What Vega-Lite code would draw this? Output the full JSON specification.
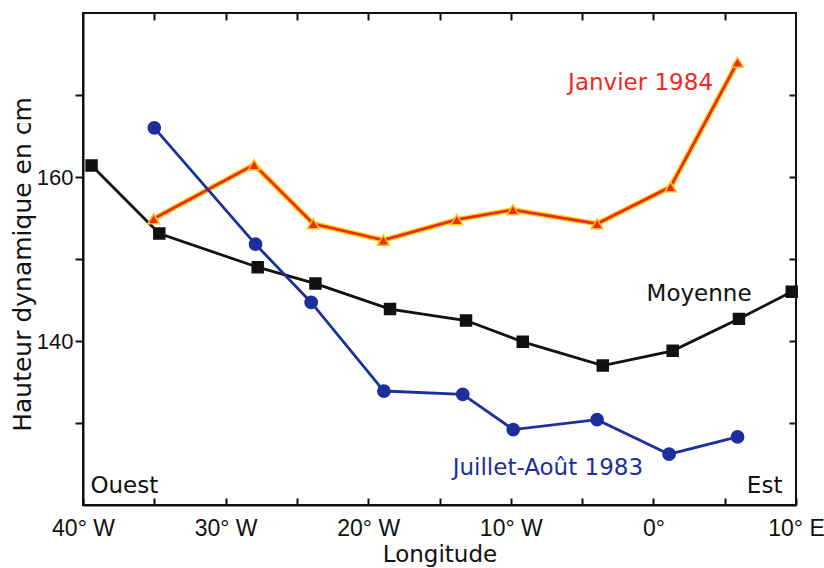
{
  "$schema": "https://vega.github.io/schema/vega-lite/v6.json",
  "width": 713,
  "height": 492,
  "autosize": "none",
  "padding": {"left": 83, "top": 13, "right": 28, "bottom": 63},
  "background": "#ffffff",
  "config": {
    "view": {"stroke": "#111111", "strokeWidth": 2},
    "font": "DejaVu Sans",
    "axis": {"domainColor": "#111111", "domainWidth": 2, "tickColor": "#111111", "tickWidth": 2, "grid": false, "labelFont": "Liberation Sans", "titleFont": "DejaVu Sans", "labelColor": "#111111", "titleColor": "#111111", "labelFontSize": 23, "titleFontSize": 23, "titleFontWeight": "normal"}
  },
  "datasets": {
    "series": [
      {"serie": "Moyenne", "lon": -39.4, "hauteur": 161.4},
      {"serie": "Moyenne", "lon": -34.65, "hauteur": 153.1},
      {"serie": "Moyenne", "lon": -27.75, "hauteur": 149.0},
      {"serie": "Moyenne", "lon": -23.7, "hauteur": 147.0},
      {"serie": "Moyenne", "lon": -18.47, "hauteur": 143.9},
      {"serie": "Moyenne", "lon": -13.14, "hauteur": 142.5},
      {"serie": "Moyenne", "lon": -9.16, "hauteur": 139.9},
      {"serie": "Moyenne", "lon": -3.55, "hauteur": 137.0},
      {"serie": "Moyenne", "lon": 1.35, "hauteur": 138.8},
      {"serie": "Moyenne", "lon": 6.0, "hauteur": 142.7},
      {"serie": "Moyenne", "lon": 9.7, "hauteur": 146.0},
      {"serie": "Janvier 1984", "lon": -35.05, "hauteur": 154.9},
      {"serie": "Janvier 1984", "lon": -28.0, "hauteur": 161.5},
      {"serie": "Janvier 1984", "lon": -23.85, "hauteur": 154.3},
      {"serie": "Janvier 1984", "lon": -18.94, "hauteur": 152.3},
      {"serie": "Janvier 1984", "lon": -13.79, "hauteur": 154.8},
      {"serie": "Janvier 1984", "lon": -9.85, "hauteur": 156.0},
      {"serie": "Janvier 1984", "lon": -3.95, "hauteur": 154.3},
      {"serie": "Janvier 1984", "lon": 1.2, "hauteur": 158.8},
      {"serie": "Janvier 1984", "lon": 5.9, "hauteur": 174.0},
      {"serie": "Juillet-Août 1983", "lon": -35.0, "hauteur": 166.0},
      {"serie": "Juillet-Août 1983", "lon": -27.9, "hauteur": 151.8},
      {"serie": "Juillet-Août 1983", "lon": -24.0, "hauteur": 144.7},
      {"serie": "Juillet-Août 1983", "lon": -18.9, "hauteur": 133.9},
      {"serie": "Juillet-Août 1983", "lon": -13.37, "hauteur": 133.5},
      {"serie": "Juillet-Août 1983", "lon": -9.83, "hauteur": 129.2},
      {"serie": "Juillet-Août 1983", "lon": -3.95, "hauteur": 130.4},
      {"serie": "Juillet-Août 1983", "lon": 1.1, "hauteur": 126.2},
      {"serie": "Juillet-Août 1983", "lon": 5.9, "hauteur": 128.3}
    ],
    "labels": [
      {"texte": "Janvier 1984", "lon": -0.9, "hauteur": 171.5, "serie": "Janvier 1984"},
      {"texte": "Moyenne", "lon": 3.2, "hauteur": 145.7, "serie": "Moyenne"},
      {"texte": "Juillet-Août 1983", "lon": -7.4, "hauteur": 124.5, "serie": "Juillet-Août 1983"},
      {"texte": "Ouest", "lon": -37.1, "hauteur": 122.3, "serie": "Moyenne"},
      {"texte": "Est", "lon": 7.8, "hauteur": 122.3, "serie": "Moyenne"}
    ]
  },
  "resolve": {"axis": {"x": "independent", "y": "independent"}},
  "layer": [
    {
      "data": {"name": "series"},
      "transform": [{"filter": "datum.serie === 'Janvier 1984'"}],
      "mark": {"type": "line", "stroke": "#ffd21a", "strokeWidth": 5.5, "strokeJoin": "miter"},
      "encoding": {
        "x": {"field": "lon", "type": "quantitative", "scale": {"domain": [-40, 10], "nice": false, "zero": false},
          "axis": {"orient": "bottom", "values": [-40, -35, -30, -25, -20, -15, -10, -5, 0, 5, 10], "tickSize": -7, "labelPadding": 19, "labelExpr": "datum.value % 10 !== 0 ? '' : (datum.value < 0 ? (-datum.value) + '° W' : (datum.value === 0 ? '0°' : datum.value + '° E'))", "title": "Longitude", "titleY": 49, "titleBaseline": "middle", "labelFlush": false, "labelOverlap": false, "labelBound": false}},
        "y": {"field": "hauteur", "type": "quantitative", "scale": {"domain": [120, 180], "nice": false, "zero": false},
          "axis": {"orient": "left", "values": [130, 140, 150, 160, 170], "tickSize": 8, "labelPadding": 2, "labelFontSize": 22, "labelExpr": "datum.value === 140 || datum.value === 160 ? datum.label : ''", "title": "Hauteur dynamique en cm", "titleFontSize": 25, "titleX": -61, "titleY": 251, "titleBaseline": "middle", "titleAlign": "center", "labelOverlap": false}},
        "detail": {"field": "serie"}
      }
    },
    {
      "data": {"name": "series"},
      "mark": {"type": "line", "strokeWidth": 2.8},
      "encoding": {
        "x": {"field": "lon", "type": "quantitative",
          "axis": {"orient": "top", "values": [-35, -30, -25, -20, -15, -10, -5, 0, 5], "tickSize": -7, "labels": false, "title": null, "domain": false}},
        "y": {"field": "hauteur", "type": "quantitative",
          "axis": {"orient": "right", "values": [130, 140, 150, 160, 170], "tickSize": -7, "labels": false, "title": null, "domain": false}},
        "color": {"field": "serie", "type": "nominal", "legend": null,
          "scale": {"domain": ["Moyenne", "Janvier 1984", "Juillet-Août 1983"], "range": ["#111111", "#ef2a1b", "#1d2f9c"]}}
      }
    },
    {
      "data": {"name": "series"},
      "mark": {"type": "point", "filled": true, "opacity": 1, "strokeWidth": 1.5},
      "encoding": {
        "x": {"field": "lon", "type": "quantitative", "axis": null},
        "y": {"field": "hauteur", "type": "quantitative", "axis": null},
        "color": {"field": "serie", "type": "nominal", "legend": null},
        "stroke": {"field": "serie", "type": "nominal", "legend": null,
          "scale": {"domain": ["Moyenne", "Janvier 1984", "Juillet-Août 1983"], "range": ["#111111", "#ffc01a", "#1d2f9c"]}},
        "shape": {"field": "serie", "type": "nominal", "legend": null,
          "scale": {"domain": ["Moyenne", "Janvier 1984", "Juillet-Août 1983"], "range": ["square", "triangle-up", "circle"]}},
        "size": {"field": "serie", "type": "nominal", "legend": null,
          "scale": {"domain": ["Moyenne", "Janvier 1984", "Juillet-Août 1983"], "range": [120, 150, 90]}}
      }
    },
    {
      "data": {"name": "labels"},
      "mark": {"type": "text", "fontSize": 23, "font": "DejaVu Sans", "align": "center", "baseline": "middle"},
      "encoding": {
        "x": {"field": "lon", "type": "quantitative", "axis": null},
        "y": {"field": "hauteur", "type": "quantitative", "axis": null},
        "text": {"field": "texte"},
        "color": {"field": "serie", "type": "nominal", "legend": null}
      }
    }
  ]
}
